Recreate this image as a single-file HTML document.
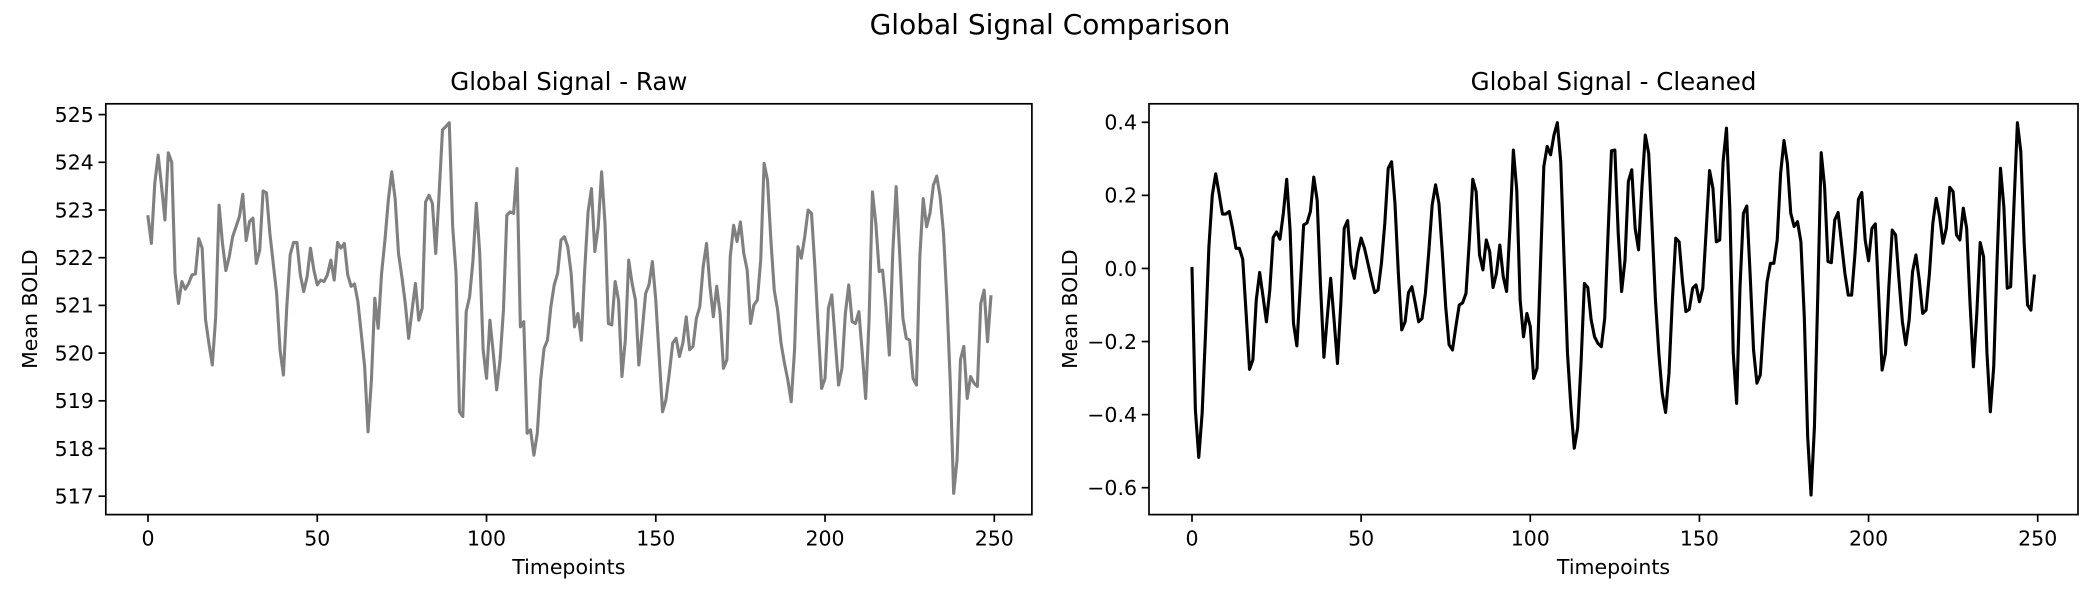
<!DOCTYPE html>
<html><head><meta charset="utf-8"><style>
html,body{margin:0;padding:0;background:#fff;}
svg{display:block;font-family:"DejaVu Sans","Liberation Sans",sans-serif;}
</style></head><body>
<svg id="fig" width="2100" height="600" viewBox="0 0 2100 600">
<text x="1050" y="34" text-anchor="middle" font-size="28">Global Signal Comparison</text>
</svg>
<script>
const rawValues = [522.86,522.3,523.56,524.15,523.5,522.79,524.2,524.0,521.67,521.04,521.5,521.34,521.46,521.64,521.66,522.4,522.2,520.7,520.2,519.75,520.76,523.1,522.3,521.73,522.02,522.44,522.65,522.86,523.33,522.36,522.76,522.83,521.88,522.16,523.4,523.36,522.51,521.88,521.25,520.07,519.54,520.97,522.06,522.32,522.32,521.64,521.29,521.6,522.2,521.74,521.43,521.53,521.5,521.64,521.95,521.53,522.32,522.2,522.3,521.64,521.4,521.45,521.08,520.41,519.71,518.35,519.44,521.15,520.52,521.67,522.37,523.21,523.8,523.24,522.09,521.6,521.04,520.31,520.9,521.46,520.69,520.94,523.17,523.31,523.14,522.09,523.35,524.68,524.75,524.83,522.65,521.67,518.77,518.67,520.87,521.18,521.95,523.14,522.09,520.07,519.47,520.69,520.0,519.23,519.86,520.9,522.89,522.96,522.93,523.87,520.55,520.66,518.32,518.39,517.86,518.32,519.44,520.1,520.27,520.97,521.43,521.67,522.37,522.44,522.23,521.67,520.55,520.83,520.27,521.74,522.96,523.45,522.13,522.65,523.8,522.72,520.62,520.59,521.5,521.11,519.51,520.27,521.95,521.46,521.11,519.75,520.48,521.25,521.43,521.92,521.11,519.93,518.77,519.02,519.58,520.21,520.31,519.93,520.21,520.76,520.07,520.14,520.73,520.97,521.81,522.3,521.4,520.76,521.4,520.83,519.68,519.86,522.02,522.68,522.34,522.75,522.09,521.74,520.62,521.01,521.11,521.95,523.98,523.63,522.37,521.32,520.9,520.21,519.79,519.44,518.98,520.07,522.23,521.99,522.44,523.0,522.93,521.81,520.48,519.26,519.47,520.94,521.22,520.27,519.33,519.68,520.83,521.43,520.66,520.62,520.87,520.0,519.05,520.69,523.38,522.72,521.71,521.74,520.97,519.96,522.09,523.49,522.16,520.73,520.31,520.27,519.47,519.33,522.02,523.24,522.65,522.93,523.52,523.71,523.28,522.51,521.11,519.37,517.06,517.76,519.86,520.14,519.05,519.51,519.37,519.3,521.04,521.32,520.24,521.18];
const cleanedValues = [0.0,-0.387,-0.517,-0.396,-0.177,0.06,0.201,0.259,0.206,0.149,0.149,0.156,0.11,0.055,0.055,0.025,-0.123,-0.276,-0.25,-0.086,-0.011,-0.077,-0.146,-0.059,0.085,0.1,0.08,0.151,0.244,0.105,-0.15,-0.212,-0.05,0.119,0.125,0.156,0.25,0.187,-0.05,-0.243,-0.132,-0.027,-0.141,-0.26,-0.095,0.11,0.131,0.01,-0.027,0.042,0.083,0.055,0.014,-0.027,-0.066,-0.059,0.014,0.124,0.274,0.292,0.178,-0.013,-0.168,-0.146,-0.066,-0.05,-0.095,-0.146,-0.137,-0.068,0.046,0.174,0.229,0.178,0.042,-0.105,-0.209,-0.223,-0.159,-0.1,-0.094,-0.068,0.078,0.244,0.21,0.037,-0.004,0.078,0.046,-0.052,-0.013,0.064,-0.022,-0.063,0.115,0.324,0.215,-0.086,-0.187,-0.123,-0.159,-0.301,-0.273,0.005,0.279,0.334,0.311,0.365,0.399,0.292,0.023,-0.232,-0.378,-0.492,-0.437,-0.26,-0.041,-0.052,-0.141,-0.187,-0.205,-0.214,-0.137,0.096,0.322,0.324,0.096,-0.063,0.023,0.238,0.27,0.11,0.051,0.224,0.365,0.315,0.115,-0.086,-0.232,-0.342,-0.394,-0.287,-0.086,0.083,0.073,-0.036,-0.118,-0.112,-0.054,-0.045,-0.091,-0.054,0.105,0.268,0.219,0.073,0.078,0.292,0.384,0.16,-0.232,-0.369,-0.05,0.151,0.171,-0.018,-0.223,-0.314,-0.291,-0.15,-0.036,0.014,0.014,0.078,0.26,0.35,0.288,0.151,0.115,0.128,0.073,-0.132,-0.46,-0.62,-0.433,-0.068,0.317,0.224,0.019,0.016,0.133,0.153,0.069,-0.013,-0.073,-0.073,0.042,0.189,0.208,0.078,0.021,0.11,0.122,-0.077,-0.278,-0.232,-0.05,0.105,0.092,-0.032,-0.146,-0.209,-0.141,-0.009,0.037,-0.032,-0.123,-0.114,-0.013,0.124,0.192,0.142,0.069,0.11,0.222,0.21,0.092,0.078,0.165,0.11,-0.095,-0.269,-0.123,0.071,0.032,-0.232,-0.392,-0.269,0.023,0.274,0.169,-0.054,-0.05,0.178,0.399,0.32,0.069,-0.1,-0.114,-0.021];
const xTickValues = [0,50,100,150,200,250];
const rawYTicks = [517,518,519,520,521,522,523,524,525];
const cleanedYTicks = [-0.6,-0.4,-0.2,0.0,0.2,0.4];
const cleanedYTickLabels = ["\u22120.6","\u22120.4","\u22120.2","0.0","0.2","0.4"];

const NS = "http://www.w3.org/2000/svg";
const svg = document.getElementById('fig');
function mk(tag, attrs, parent){const e=document.createElementNS(NS,tag);for(const k in attrs)e.setAttribute(k,attrs[k]);(parent||svg).appendChild(e);return e;}

function drawPanel(cfg){
  const g = mk('g',{});
  
  
  const xs = v => cfg.x0px + (v - 0) * (cfg.x250px - cfg.x0px) / 250;
  const ys = v => cfg.yAp + (v - cfg.yA) * (cfg.yBp - cfg.yAp) / (cfg.yB - cfg.yA);
  // line
  const d = cfg.values.map((v,i)=>(i?'L':'M')+xs(i).toFixed(2)+','+ys(v).toFixed(2)).join(' ');
  const line = mk('path',{d:d,fill:'none',stroke:cfg.color,'stroke-width':3.1,'stroke-linejoin':'round','stroke-linecap':'square'},g);
  
  
  // frame
  const fr = mk('rect',{x:cfg.L,y:cfg.T,width:cfg.R-cfg.L,height:cfg.B-cfg.T,fill:'none',stroke:'#000','stroke-width':1.7},g);
  
  
  // x ticks
  xTickValues.forEach(v=>{
    const x = xs(v);
    mk('line',{x1:x,x2:x,y1:cfg.B,y2:cfg.B+7.3,stroke:'#000','stroke-width':1.7},g);
    const t = mk('text',{x:x,y:cfg.B+31,'text-anchor':'middle','font-size':20.5},g);
    t.textContent = String(v);
    
    
  });
  cfg.yTicks.forEach((v,i)=>{
    const y = ys(v);
    mk('line',{x1:cfg.L-7.3,x2:cfg.L,y1:y,y2:y,stroke:'#000','stroke-width':1.7},g);
    const t = mk('text',{x:cfg.L-12,y:y+7.3,'text-anchor':'end','font-size':20.5},g);
    t.textContent = cfg.yLabels[i];
    
    
  });
  const tt = mk('text',{x:(cfg.L+cfg.R)/2,y:cfg.T-14,'text-anchor':'middle','font-size':24.5},g);
  tt.textContent = cfg.title;
  
  
  const xl = mk('text',{x:(cfg.L+cfg.R)/2,y:574,'text-anchor':'middle','font-size':20.5},g);
  xl.textContent = 'Timepoints';
  
  
  const cy = (cfg.T+cfg.B)/2;
  const yl = mk('text',{x:cfg.ylx,y:cy,'text-anchor':'middle','font-size':20.5,transform:'rotate(-90 '+cfg.ylx+' '+cy+')'},g);
  yl.textContent = 'Mean BOLD';
  
  
}

drawPanel({name:'raw-panel',values:rawValues,color:'#808080',title:'Global Signal - Raw',
  L:105.8,R:1031.9,T:103.8,B:514.6,x0px:148,x250px:994.3,yA:525,yAp:114.6,yB:517,yBp:496.2,
  yTicks:rawYTicks,yLabels:rawYTicks.map(String),ylx:37});
drawPanel({name:'cleaned-panel',values:cleanedValues,color:'#000000',title:'Global Signal - Cleaned',
  L:1149,R:2078,T:103.8,B:514.6,x0px:1192,x250px:2037.7,yA:0.4,yAp:122.3,yB:-0.6,yBp:487.7,
  yTicks:cleanedYTicks,yLabels:cleanedYTickLabels,ylx:1077});
</script>
</body></html>
